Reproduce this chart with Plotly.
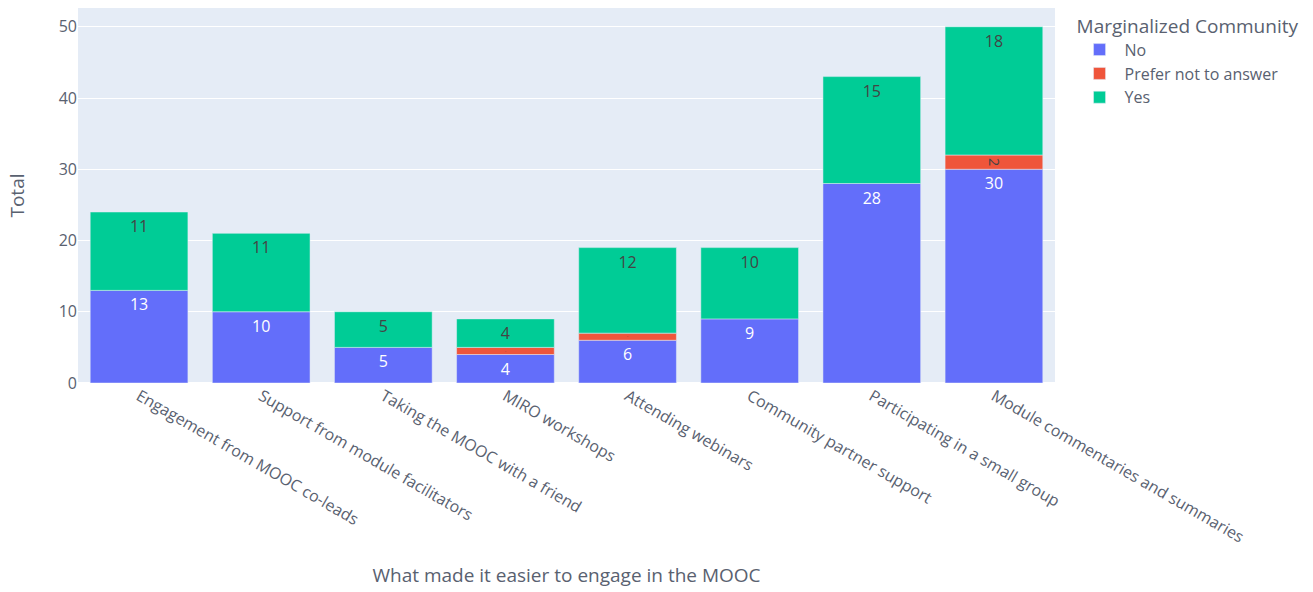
import plotly.graph_objects as go

categories = [
    "Engagement from MOOC co-leads",
    "Support from module facilitators",
    "Taking the MOOC with a friend",
    "MIRO workshops",
    "Attending webinars",
    "Community partner support",
    "Participating in a small group",
    "Module commentaries and summaries",
]
no_counts = [13, 10, 5, 4, 6, 9, 28, 30]
prefer_not_counts = [0, 0, 0, 1, 1, 0, 0, 2]
yes_counts = [11, 11, 5, 4, 12, 10, 15, 18]

series = [
    ("No", no_counts, "#636efa"),
    ("Prefer not to answer", prefer_not_counts, "#EF553B"),
    ("Yes", yes_counts, "#00cc96"),
]

fig = go.Figure()
for name, values, color in series:
    xs = [c for c, v in zip(categories, values) if v]
    ys = [v for v in values if v]
    fig.add_trace(go.Bar(
        name=name, x=xs, y=ys, text=ys, textposition="auto",
        marker_color=color, legendgroup=name,
    ))

fig.update_layout(
    template="plotly",
    barmode="relative",
    width=1313, height=592,
    margin=dict(l=78, r=258, t=8, b=209),
    font=dict(family="Open Sans, sans-serif", size=16, color="#596170"),
    legend=dict(title=dict(text="Marginalized Community"), tracegroupgap=0,
                itemwidth=40),
    xaxis=dict(title=dict(text="What made it easier to engage in the MOOC", standoff=22),
               categoryorder="array", categoryarray=categories, tickangle=30),
    yaxis=dict(title=dict(text="Total", standoff=29)),
)

fig.write_html("out.html")
